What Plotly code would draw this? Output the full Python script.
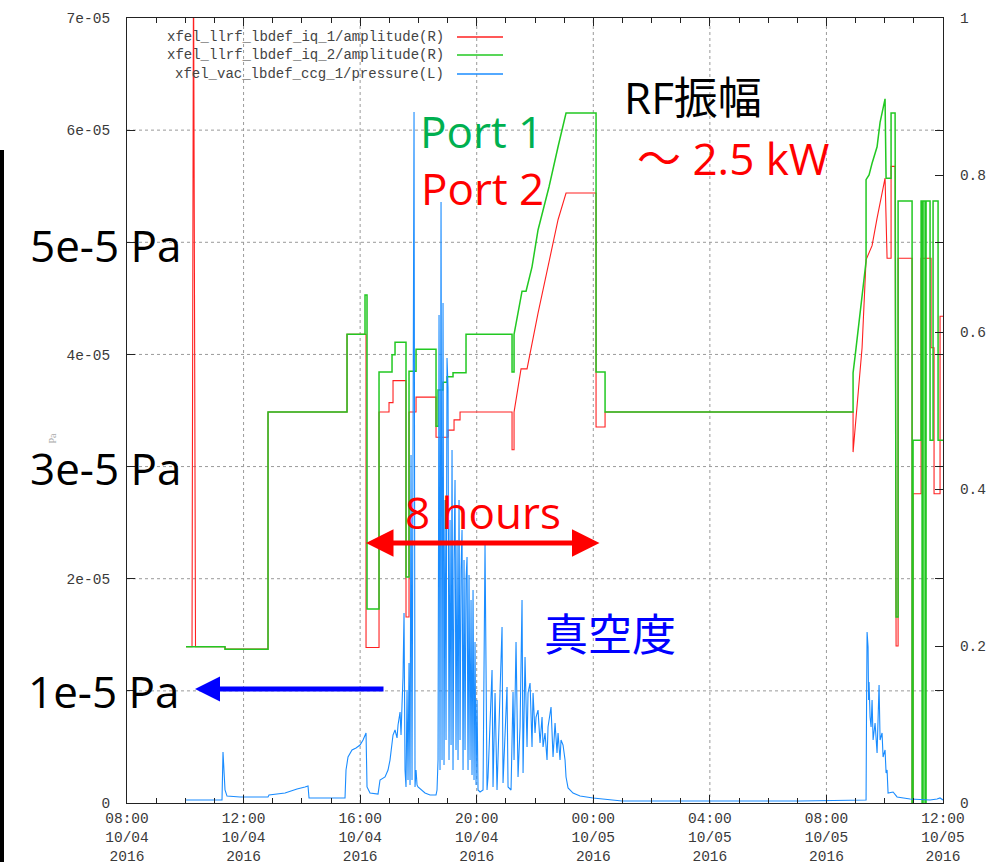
import plotly.graph_objects as go

# ---------------- data (time = hours since 2016-10-04 08:00) ----------------
# xfel_llrf_lbdef_iq_1/amplitude (right axis, red)
t_amp1 = [2.025, 2.231, 2.282, 2.351, 3.363, 3.363, 4.839, 4.839, 7.550, 7.550,
          8.202, 8.202, 8.648, 8.648, 8.991, 8.991, 9.128, 9.128, 9.574, 9.574,
          9.677, 9.677, 9.918, 9.918, 10.604, 10.604, 11.016, 11.016, 11.222, 11.222,
          11.428, 11.428, 13.212, 13.212, 13.281, 13.281, 13.521, 13.727, 14.104, 14.482,
          14.791, 15.065, 16.095, 16.095, 16.404, 16.404, 24.914, 24.914, 25.086, 25.223,
          25.360, 25.566, 25.738, 26.012, 26.081, 26.218, 26.218, 26.356, 26.390, 26.459,
          26.459, 26.939, 26.939, 26.973, 26.973, 27.248, 27.248, 27.590, 27.590, 27.693,
          27.693, 27.899, 27.899, 28.000]
amp1 = [0.199, 0.199, 1.08, 0.199, 0.199, 0.196, 0.196, 0.498, 0.498, 0.597,
        0.597, 0.198, 0.198, 0.498, 0.498, 0.510, 0.510, 0.538, 0.538, 0.237,
        0.237, 0.498, 0.498, 0.517, 0.517, 0.466, 0.466, 0.475, 0.475, 0.488,
        0.488, 0.498, 0.498, 0.450, 0.450, 0.498, 0.553, 0.553, 0.624, 0.692,
        0.743, 0.777, 0.777, 0.479, 0.479, 0.498, 0.498, 0.447, 0.524, 0.580,
        0.692, 0.710, 0.745, 0.796, 0.694, 0.694, 0.811, 0.811, 0.200, 0.200,
        0.694, 0.694, 0.000, 0.000, 0.394, 0.394, 0.694, 0.694, 0.580, 0.580,
        0.394, 0.394, 0.620, 0.620]

# xfel_llrf_lbdef_iq_2/amplitude (right axis, green)
t_amp2 = [2.025, 3.363, 3.363, 4.839, 4.839, 7.550, 7.550, 8.167, 8.167, 8.236,
          8.236, 8.648, 8.648, 9.094, 9.094, 9.197, 9.197, 9.574, 9.574, 9.677,
          9.677, 9.918, 9.918, 10.604, 10.604, 10.673, 10.673, 10.844, 10.844, 10.981,
          10.981, 11.187, 11.187, 11.633, 11.633, 13.212, 13.212, 13.281, 13.281, 13.555,
          13.693, 13.898, 14.104, 14.482, 14.791, 15.065, 16.095, 16.095, 16.404, 16.404,
          24.914, 24.914, 24.983, 25.189, 25.360, 25.360, 25.463, 25.566, 25.738, 25.841,
          26.012, 26.047, 26.218, 26.218, 26.356, 26.390, 26.459, 26.459, 26.939, 26.939,
          26.973, 26.973, 27.248, 27.248, 27.282, 27.282, 27.316, 27.316, 27.385, 27.385,
          27.419, 27.419, 27.556, 27.556, 27.659, 27.659, 27.831, 27.831, 28.000]
amp2 = [0.199, 0.199, 0.196, 0.196, 0.498, 0.498, 0.597, 0.597, 0.647, 0.647,
        0.247, 0.247, 0.549, 0.549, 0.571, 0.571, 0.587, 0.587, 0.288, 0.288,
        0.550, 0.550, 0.578, 0.578, 0.480, 0.480, 0.526, 0.526, 0.536, 0.536,
        0.543, 0.543, 0.548, 0.548, 0.597, 0.597, 0.549, 0.549, 0.597, 0.652,
        0.652, 0.683, 0.730, 0.785, 0.836, 0.879, 0.879, 0.549, 0.549, 0.498,
        0.498, 0.548, 0.569, 0.633, 0.690, 0.794, 0.800, 0.815, 0.836, 0.867,
        0.897, 0.796, 0.796, 0.879, 0.879, 0.237, 0.237, 0.767, 0.767, 0.000,
        0.000, 0.462, 0.462, 0.767, 0.767, 0.000, 0.000, 0.767, 0.767, 0.000,
        0.000, 0.767, 0.767, 0.462, 0.462, 0.767, 0.767, 0.462, 0.462]

# xfel_vac_lbdef_ccg_1/pressure (left axis, blue), values in micro-Pa
t_pres = [2.025, 3.260, 3.294, 3.329, 3.363, 3.432, 3.878, 4.839, 4.873, 5.422,
          5.594, 5.834, 6.108, 6.211, 6.246, 7.481, 7.515, 7.584, 7.721, 7.859,
          7.996, 8.099, 8.202, 8.236, 8.339, 8.614, 8.682, 8.854, 8.957, 9.025,
          9.128, 9.197, 9.266, 9.300, 9.369, 9.403, 9.437, 9.471, 9.506, 9.540,
          9.574, 9.609, 9.643, 9.677, 9.712, 9.746, 9.780, 9.815, 9.849, 9.883,
          9.918, 9.952, 9.986, 10.226, 10.398, 10.604, 10.638, 10.673, 10.707, 10.741,
          10.776, 10.810, 10.844, 10.878, 10.913, 10.947, 10.981, 11.016, 11.050, 11.084,
          11.119, 11.153, 11.187, 11.222, 11.256, 11.290, 11.325, 11.359, 11.393, 11.428,
          11.462, 11.496, 11.531, 11.565, 11.599, 11.633, 11.668, 11.702, 11.736, 11.771,
          11.805, 11.839, 11.874, 11.908, 11.942, 11.977, 12.011, 12.045, 12.114, 12.217,
          12.285, 12.354, 12.388, 12.526, 12.560, 12.629, 12.697, 12.869, 12.903, 13.040,
          13.075, 13.178, 13.246, 13.281, 13.349, 13.418, 13.487, 13.555, 13.590, 13.658,
          13.727, 13.761, 13.830, 13.898, 13.933, 14.001, 14.036, 14.104, 14.173, 14.242,
          14.276, 14.344, 14.413, 14.447, 14.550, 14.619, 14.688, 14.756, 14.791, 14.859,
          14.893, 14.962, 15.031, 15.065, 15.134, 15.305, 15.546, 15.992, 16.987, 23.096,
          25.326, 25.360, 25.377, 25.395, 25.429, 25.446, 25.463, 25.498, 25.532, 25.566,
          25.601, 25.669, 25.738, 25.806, 25.841, 25.909, 25.944, 26.012, 26.047, 26.081,
          26.115, 26.287, 26.424, 26.870, 27.556, 27.796, 27.899, 28.000]
pres_uPa = [0.27, 0.27, 4.55, 2.94, 1.16, 0.62, 0.54, 0.54, 0.71, 0.89,
            1.07, 1.25, 1.43, 1.52, 0.45, 0.45, 2.94, 4.10, 4.73, 4.90,
            5.17, 5.62, 6.24, 1.43, 0.89, 0.80, 2.05, 2.32, 2.94, 3.83,
            6.06, 6.51, 5.80, 6.96, 8.11, 6.06, 8.74, 11.24, 16.94, 2.94,
            1.43, 10.08, 2.05, 12.48, 1.61, 31.03, 2.05, 49.04, 61.62, 1.43,
            2.94, 1.61, 1.43, 0.89, 0.71, 0.71, 1.16, 3.83, 43.51, 2.94,
            53.59, 3.83, 44.59, 3.39, 27.02, 5.62, 39.68, 37.01, 3.83, 25.23,
            5.17, 31.48, 2.94, 21.67, 28.80, 4.73, 23.45, 3.83, 27.02, 5.62,
            20.78, 24.34, 2.94, 21.67, 4.73, 19.88, 21.94, 2.94, 20.33, 3.83,
            18.10, 2.50, 18.99, 2.05, 14.36, 1.61, 9.18, 1.16, 0.98, 1.16,
            23.01, 1.16, 2.32, 11.86, 1.43, 9.81, 1.16, 15.69, 1.78, 10.34,
            1.43, 1.16, 9.90, 3.83, 14.36, 2.32, 6.78, 18.10, 2.68, 13.02,
            4.99, 9.81, 10.70, 4.99, 9.81, 6.24, 7.67, 8.29, 5.35, 7.67,
            4.99, 6.24, 3.83, 6.78, 8.56, 4.10, 7.13, 4.46, 6.24, 3.83,
            5.62, 5.17, 3.83, 2.32, 1.34, 0.89, 0.62, 0.45, 0.18, 0.18,
            0.27, 0.27, 8.74, 15.25, 13.91, 9.18, 10.79, 7.67, 6.78, 9.18,
            5.62, 7.13, 4.46, 10.52, 5.62, 6.24, 4.10, 4.73, 2.68, 2.94,
            0.89, 0.98, 0.54, 0.36, 0.27, 0.36, 0.45, 0.27]
pres = [v * 1e-6 for v in pres_uPa]

series_names = ["xfel_llrf_lbdef_iq_1/amplitude(R)",
                "xfel_llrf_lbdef_iq_2/amplitude(R)",
                "xfel_vac_lbdef_ccg_1/pressure(L)"]
series_colors = ["#ff2020", "#22c822", "#1a8cff"]

x_tick_hours = [0, 4, 8, 12, 16, 20, 24, 28]
x_tick_text = ["08:00<br>10/04<br>2016", "12:00<br>10/04<br>2016", "16:00<br>10/04<br>2016",
               "20:00<br>10/04<br>2016", "00:00<br>10/05<br>2016", "04:00<br>10/05<br>2016",
               "08:00<br>10/05<br>2016", "12:00<br>10/05<br>2016"]
# labels at 1e-05, 3e-05 and 5e-05 are hidden under the slide's large overlay text
p_tick_vals = [0, 1e-5, 2e-5, 3e-5, 4e-5, 5e-5, 6e-5, 7e-5]
p_tick_text = ["0", "", "2e-05", "", "4e-05", "", "6e-05", "7e-05"]
a_tick_vals = [0, 0.2, 0.4, 0.6, 0.8, 1.0]
a_tick_text = ["0", "0.2", "0.4", "0.6", "0.8", "1"]

# ---------------- figure ----------------
W, H = 988, 867
L, R, T, B = 127, 45, 18, 64
PW, PH = W - L - R, H - T - B


def px(x):
    return (x - L) / PW


def py(y):
    return (H - B - y) / PH


fig = go.Figure()
fig.add_trace(go.Scatter(x=t_amp1, y=amp1, yaxis="y", mode="lines",
                         line=dict(color=series_colors[0], width=1.1), name=series_names[0]))
fig.add_trace(go.Scatter(x=t_amp2, y=amp2, yaxis="y", mode="lines",
                         line=dict(color=series_colors[1], width=1.5), name=series_names[1]))
fig.add_trace(go.Scatter(x=t_pres, y=pres, yaxis="y2", mode="lines",
                         line=dict(color=series_colors[2], width=1.1), name=series_names[2]))

tickfont = dict(family="Liberation Mono, DejaVu Sans Mono, monospace", size=14.5, color="#3a3a3a")

fig.update_layout(
    width=W, height=H, margin=dict(l=L, r=R, t=T, b=B, autoexpand=False),
    paper_bgcolor="white", plot_bgcolor="white", showlegend=False,
    xaxis=dict(range=[0, 28], tickvals=x_tick_hours, ticktext=x_tick_text, automargin=False,
               ticks="inside", ticklen=8, tickcolor="#222", showline=True, linecolor="#222",
               linewidth=1, mirror="ticks", showgrid=False, zeroline=False, tickfont=tickfont,
               minor=dict(dtick=1, tick0=0, ticks="inside", ticklen=5, tickcolor="#222", showgrid=False),
               ticklabelstandoff=2),
    yaxis=dict(range=[0, 1], side="right", tickvals=a_tick_vals, ticktext=a_tick_text,
               automargin=False,
               ticks="inside", ticklen=8, tickcolor="#222", showline=True, linecolor="#222",
               showgrid=False, zeroline=False, tickfont=tickfont, ticklabelstandoff=13),
    yaxis2=dict(range=[0, 7e-5], overlaying="y", side="left", tickvals=p_tick_vals,
                automargin=False,
                ticktext=p_tick_text, ticks="inside", ticklen=8, tickcolor="#222",
                showline=True, linecolor="#222", mirror="ticks", showgrid=False,
                zeroline=False, tickfont=tickfont, ticklabelstandoff=13),
)

shapes = []
grid_line = dict(color="#9a9a9a", width=1, dash="dot")
for h in x_tick_hours[1:-1]:
    shapes.append(dict(type="line", xref="x", yref="paper", x0=h, x1=h, y0=0, y1=1,
                       line=grid_line, layer="below"))
for p in p_tick_vals[1:-1]:
    shapes.append(dict(type="line", xref="paper", yref="y2", x0=0, x1=1, y0=p, y1=p,
                       line=grid_line, layer="below"))

# legend (gnuplot style: text right-aligned, sample line to the right)
legend_rows_y = [37, 55, 74]
annotations = []
for name, col, yy in zip(series_names, series_colors, legend_rows_y):
    annotations.append(dict(xref="paper", yref="paper", x=px(446), y=py(yy), text=name,
                            showarrow=False, xanchor="right", yanchor="middle",
                            font=dict(family="Liberation Mono, monospace", size=14, color="#444")))
    shapes.append(dict(type="line", xref="paper", yref="paper", x0=px(457), x1=px(503),
                       y0=py(yy), y1=py(yy), line=dict(color=col, width=1.5)))

# black edge bar at far left (from the slide)
shapes.append(dict(type="rect", xref="paper", yref="paper", x0=px(0), x1=px(4),
                   y0=py(862), y1=py(150), fillcolor="black", line=dict(width=0)))

# small axis title (mostly hidden behind the overlay text)
annotations.append(dict(xref="paper", yref="paper", x=px(44), y=py(438), text="Pa",
                        textangle=-90, showarrow=False,
                        font=dict(family="Liberation Serif", size=10, color="#aaa")))

big = "Open Sans, Noto Sans CJK JP, sans-serif"
overlay = [
    ("5e-5 Pa", 106, 245, "black"),
    ("3e-5 Pa", 106, 468, "black"),
    ("1e-5 Pa", 104, 691, "black"),
    ("Port 1", 481, 131, "#00b050"),
    ("Port 2", 482, 188, "#ff0000"),
    ("RF振幅", 693, 97, "black"),
    ("～ 2.5 kW", 733, 158, "#ff0000"),
    ("8 hours", 483, 512, "#ff0000"),
    ("真空度", 610, 634, "#0000ff"),
]
for txt, x, y, col in overlay:
    annotations.append(dict(xref="paper", yref="paper", x=px(x), y=py(y), text=txt,
                            showarrow=False, xanchor="center", yanchor="middle",
                            font=dict(family=big, size=44, color=col)))

# red double arrow (8 hours)
annotations.append(dict(xref="paper", yref="paper", x=px(366), y=py(543), ax=235, ay=0,
                        text="", showarrow=True, arrowhead=2, arrowside="end+start",
                        arrowsize=1.1, arrowwidth=5, arrowcolor="#ff0000"))
# blue arrow pointing to left axis
annotations.append(dict(xref="paper", yref="paper", x=px(195), y=py(689), ax=190, ay=0,
                        text="", showarrow=True, arrowhead=2, arrowsize=1, arrowwidth=5,
                        arrowcolor="#0000ff"))

fig.update_layout(shapes=shapes, annotations=annotations)
fig.write_html("out.html")
